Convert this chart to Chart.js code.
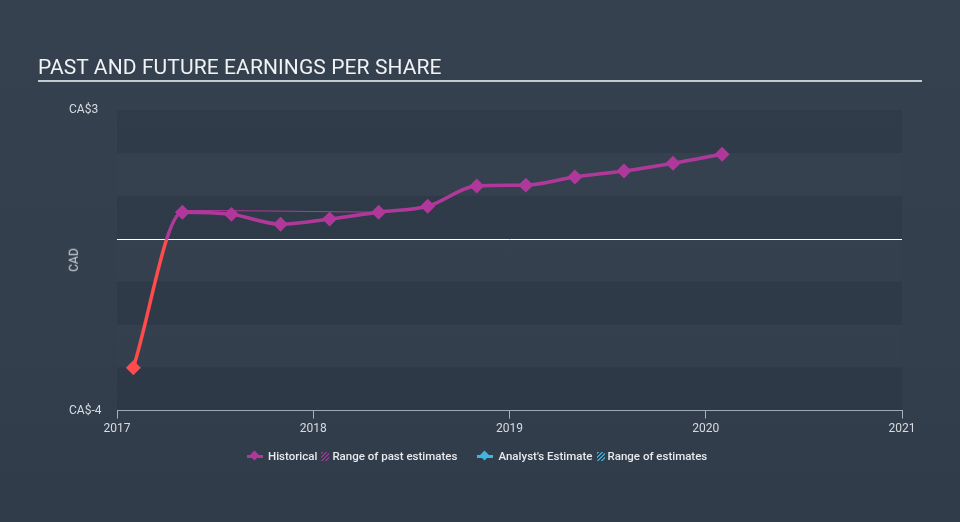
<!DOCTYPE html>
<html>
<head>
    <title>Past and Future Earnings Per Share</title>
    <script src="https://cdn.jsdelivr.net/npm/chart.js"></script>
    <style>
        body { margin: 0; width: 960px; height: 522px; overflow: hidden;
               background: linear-gradient(180deg, #35414f 0%, #333f4d 60%, #303c4a 100%);
               font-family: Roboto, "Open Sans", sans-serif; }
        #wrap { position: relative; width: 960px; height: 522px; }
        #chart { position: absolute; left: 0; top: 0; }
        .title { position: absolute; left: 38px; top: 55px; font-size: 21px; color: #f0f2f4; letter-spacing: 0.1px; }
        .rule { position: absolute; left: 38px; top: 80px; width: 884px; height: 2px; background: #c4cad1; }
        .ylab { position: absolute; left: 62px; top: 253px; font-size: 12px; color: #d8dce0; transform: rotate(-90deg); }
        .legend { position: absolute; top: 449px; left: 247px; font-size: 11.5px; font-weight: 500; color: #e8eaec; display: flex; align-items: center; white-space: nowrap; }
        .icon { position: relative; width: 16px; height: 12px; display: inline-block; margin-right: 5px; }
        .icon i { position: absolute; left: 0; top: 5px; width: 16px; height: 3px; }
        .icon b { position: absolute; left: 4px; top: 2px; width: 7px; height: 7px; transform: rotate(45deg); }
        .hatch { display: inline-block; width: 8px; height: 9px; margin: 0 3px 0 4px; }
    </style>
</head>
<body>
<div id="wrap">
    <canvas id="chart" width="960" height="522"></canvas>
    <div class="title">PAST AND FUTURE EARNINGS PER SHARE</div>
    <div class="rule"></div>
    <div class="ylab">CAD</div>
    <div class="legend">
        <span class="icon"><i style="background:#b0389a"></i><b style="background:#b0389a"></b></span>Historical
        <span class="hatch" style="background:repeating-linear-gradient(135deg,#8e3a86 0 1.5px,transparent 1.5px 3px)"></span>Range of past estimates
        <span style="width:20px;display:inline-block"></span>
        <span class="icon"><i style="background:#3fb5df"></i><b style="background:#3fb5df"></b></span>Analyst's Estimate
        <span class="hatch" style="background:repeating-linear-gradient(135deg,#3fa0c8 0 1.5px,transparent 1.5px 3px)"></span>Range of estimates
    </div>
</div>

<script>
    // historical EPS (CAD), quarterly
    const histDates = ['2017-02', '2017-05', '2017-08', '2017-11', '2018-02', '2018-05', '2018-08',
                       '2018-11', '2019-02', '2019-05', '2019-08', '2019-11', '2020-02'];
    const histEps = [-3.0, 0.62, 0.57, 0.34, 0.46, 0.62, 0.76, 1.23, 1.25, 1.44, 1.58, 1.76, 1.97];

    // thin range of past estimates
    const rangeDates = ['2017-02', '2017-05', '2018-05'];
    const rangeEps = [-3.0, 0.66, 0.62];

    const xTicks = [2017, 2018, 2019, 2020, 2021];
    const yTickValues = [3, -4];
    const yTickLabels = ['CA$3', 'CA$-4'];

    const PURPLE = '#b0389a';
    const RED = '#ff4b4b';

    function toYear(s) {
        const [y, m] = s.split('-').map(Number);
        return y + (m - 1) / 12;
    }

    function pts(dates, vals) {
        return dates.map((d, i) => ({ x: toYear(d), y: vals[i] }));
    }

    // red below zero, purple above
    function splitColor(ctx) {
        const chart = ctx.chart;
        const area = chart.chartArea;
        if (!area) return PURPLE;
        const y0 = chart.scales.y.getPixelForValue(0);
        const g = chart.ctx.createLinearGradient(0, area.top, 0, area.bottom);
        const f = Math.min(Math.max((y0 - area.top) / (area.bottom - area.top), 0), 1);
        g.addColorStop(0, PURPLE);
        g.addColorStop(f, PURPLE);
        g.addColorStop(f, RED);
        g.addColorStop(1, RED);
        return g;
    }

    const bands = {
        id: 'bands',
        beforeDatasetsDraw(chart) {
            const { ctx, chartArea: a, scales: { y } } = chart;
            ctx.save();
            for (let v = 3; v > -4; v--) {
                const top = y.getPixelForValue(v);
                const bot = y.getPixelForValue(v - 1);
                ctx.fillStyle = (3 - v) % 2 === 0 ? 'rgba(10,20,32,0.10)' : 'rgba(255,255,255,0.008)';
                ctx.fillRect(a.left, top, a.right - a.left, bot - top);
            }
            const z = Math.round(y.getPixelForValue(0)) + 0.5;
            ctx.strokeStyle = '#ffffff';
            ctx.lineWidth = 1;
            ctx.beginPath();
            ctx.moveTo(a.left, z);
            ctx.lineTo(a.right, z);
            ctx.stroke();
            ctx.restore();
        }
    };

    new Chart(document.getElementById('chart').getContext('2d'), {
        type: 'line',
        data: {
            datasets: [{
                label: 'Historical',
                data: pts(histDates, histEps),
                borderColor: splitColor,
                backgroundColor: splitColor,
                pointBackgroundColor: ctx => ctx.raw && ctx.raw.y < 0 ? RED : PURPLE,
                pointBorderColor: ctx => ctx.raw && ctx.raw.y < 0 ? RED : PURPLE,
                borderWidth: 3.5,
                pointStyle: 'rectRot',
                pointRadius: 5,
                cubicInterpolationMode: 'monotone',
                order: 1
            }, {
                label: 'Range of past estimates',
                data: pts(rangeDates, rangeEps),
                borderColor: splitColor,
                borderWidth: 1,
                pointRadius: 0,
                cubicInterpolationMode: 'monotone',
                order: 2
            }]
        },
        options: {
            responsive: false,
            animation: false,
            layout: { padding: { left: 69, right: 58, top: 110, bottom: 83 } },
            plugins: { legend: { display: false }, tooltip: { enabled: false } },
            scales: {
                x: {
                    type: 'linear',
                    min: 2017,
                    max: 2021,
                    afterBuildTicks: s => { s.ticks = xTicks.map(v => ({ value: v })); },
                    grid: { display: true, drawOnChartArea: false, drawTicks: true, tickLength: 8, color: '#a9b3bf' },
                    border: { display: true, color: '#a9b3bf', width: 1 },
                    ticks: { color: '#d8dce0', font: { family: 'Roboto', size: 12 }, padding: 3,
                             callback: v => String(v), maxRotation: 0 }
                },
                y: {
                    min: -4,
                    max: 3,
                    afterBuildTicks: s => { s.ticks = yTickValues.map(v => ({ value: v })); },
                    afterFit: s => { s.width = 48; },
                    grid: { display: false },
                    border: { display: false },
                    ticks: { color: '#d8dce0', font: { family: 'Roboto', size: 12 }, crossAlign: 'far',
                             callback: v => yTickLabels[yTickValues.indexOf(v)] }
                }
            }
        },
        plugins: [bands]
    });
</script>
</body>
</html>
